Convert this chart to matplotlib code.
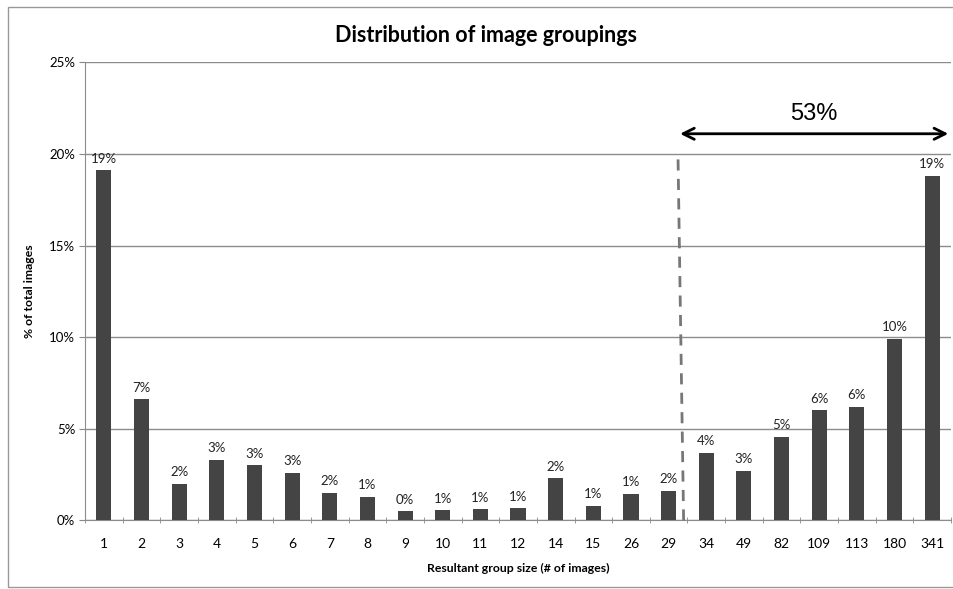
# Distribution of image groupings - bar chart with 53% annotation

from matplotlib import pyplot as plt
from matplotlib.patches import Rectangle
from matplotlib.ticker import PercentFormatter

# data
group_sizes = ["1", "2", "3", "4", "5", "6", "7", "8", "9", "10", "11", "12",
               "14", "15", "26", "29", "34", "49", "82", "109", "113", "180", "341"]
pct_images = [19.1, 6.6, 2.0, 3.3, 3.0, 2.6, 1.5, 1.3, 0.5, 0.55, 0.6, 0.65,
              2.3, 0.8, 1.45, 1.6, 3.7, 2.7, 4.55, 6.0, 6.2, 9.9, 18.8]
split_pos = 15.4          # dashed divider between "29" and "34"
share_label = "53%"

plt.rcParams["font.family"] = ["Lato", "DejaVu Sans"]

fig = plt.figure(figsize=(9.54, 5.89), dpi=100)
ax = fig.add_axes([0.0891, 0.1166, 0.9078, 0.7776])

x = range(len(group_sizes))
bars = ax.bar(x, pct_images, width=0.4, color="#444444", zorder=3)

# value labels above bars
for xi, v in zip(x, pct_images):
    ax.annotate(f"{round(v):d}%", xy=(xi, v), xytext=(0, 4), textcoords="offset points",
                ha="center", va="bottom", fontsize=9.5, color="#222222")

ax.set_xlim(-0.5, len(group_sizes) - 0.5)
ax.set_ylim(0, 25)
ax.set_yticks(range(0, 26, 5))
ax.yaxis.set_major_formatter(PercentFormatter(decimals=0))
ax.set_xticks(list(x))
ax.set_xticklabels(group_sizes, fontsize=10)
ax.set_xticks([i + 0.5 for i in range(-1, len(group_sizes))], minor=True)
ax.tick_params(axis="x", which="major", length=0, pad=13)
ax.tick_params(axis="x", which="minor", length=4, color="#888888", direction="inout")
ax.tick_params(axis="y", length=4, color="#888888", labelsize=9.5, pad=3)

ax.grid(axis="y", color="#8c8c8c", linewidth=1, zorder=0)
for s in ["top", "right"]:
    ax.spines[s].set_visible(False)
for s in ["left", "bottom"]:
    ax.spines[s].set_color("#8c8c8c")

ax.set_xlabel("Resultant group size (# of images)", fontsize=8.8, fontweight="bold", labelpad=9)
ax.set_ylabel("% of total images", fontsize=8.8, fontweight="bold", labelpad=10)

# dashed divider and the arrow
ax.plot([split_pos - 0.15, split_pos], [19.7, -0.3], color="#777777", lw=2,
        linestyle=(0, (4, 3)), clip_on=False, zorder=4)
ax.annotate("", xy=(split_pos - 0.17, 21.1), xytext=(len(group_sizes) - 0.5, 21.1),
            arrowprops=dict(arrowstyle="<->", lw=2, color="black", mutation_scale=20),
            annotation_clip=False)
ax.text((split_pos - 0.17 + len(group_sizes) - 0.5) / 2, 21.6, share_label,
        ha="center", va="bottom", fontsize=17, family=["Liberation Sans", "DejaVu Sans"])

fig.text(0.509, 0.94, "Distribution of image groupings", ha="center", va="center",
         fontsize=15.5, fontweight="bold")

# outer frame
fig.patches.append(Rectangle((8 / 954, 2 / 589), 1.2, 580 / 589, transform=fig.transFigure,
                             fill=False, edgecolor="#999999", lw=1))

plt.savefig("out.png", dpi=100)
